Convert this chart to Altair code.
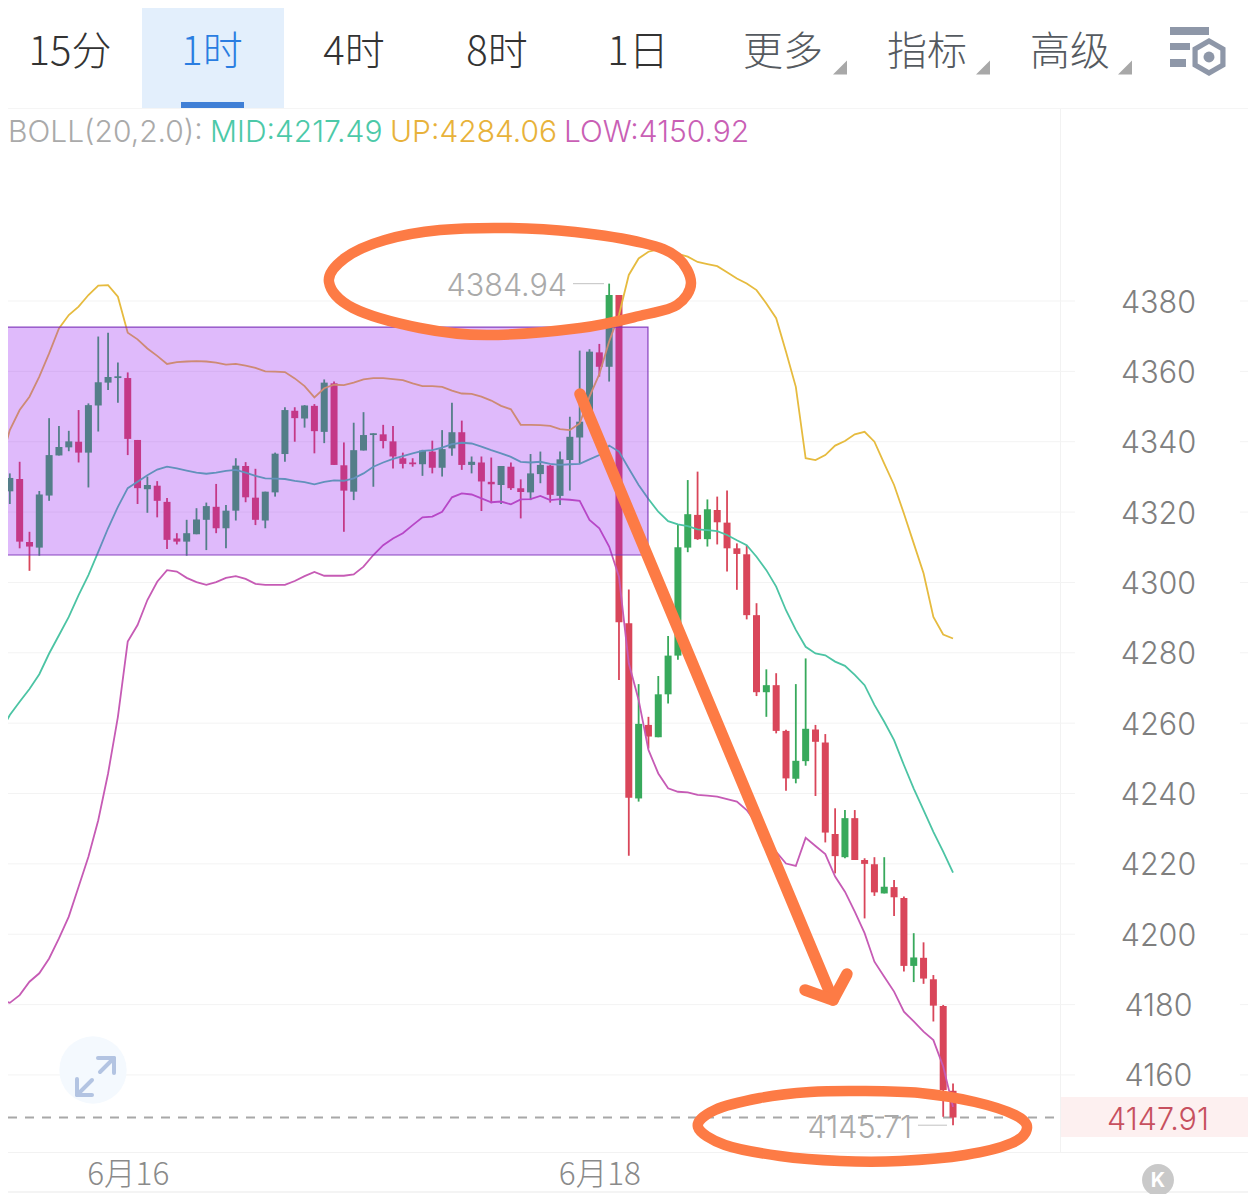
import altair as alt
import pandas as pd

directions = list("rgrrggggrg" "gggrrgrrrg" "ggrggrrggg" "rgrgrrgggr" "rrrgrggrgr" "rgrrggrggg" "grgrrgrggg" "grgrrrrrgr" "rggrrrgrrr" "grrgrrrr")

highs = [4331.0,4331.0,4334.3,4314.4,4326.0,4346.7,4344.5,4343.1,4349.0,4350.9,
         4369.9,4371.0,4362.5,4359.7,4340.5,4330.1,4328.8,4324.0,4314.0,4317.8,
         4321.1,4322.7,4328.0,4322.0,4335.3,4334.2,4332.3,4325.8,4336.9,4349.8,
         4349.8,4350.4,4350.7,4357.7,4357.1,4339.8,4345.4,4348.4,4342.4,4344.8,
         4344.5,4336.9,4335.3,4337.7,4340.3,4343.3,4351.1,4346.0,4335.8,4335.8,
         4335.5,4333.1,4334.1,4329.3,4336.5,4337.2,4333.4,4337.2,4347.1,4365.9,
         4366.3,4367.8,4384.94,4381.7,4298.0,4271.1,4261.8,4273.4,4284.8,4316.3,
         4329.1,4331.5,4323.6,4324.4,4326.1,4311.1,4310.6,4294.1,4275.3,4274.2,
         4258.1,4271.1,4278.4,4259.5,4256.9,4235.8,4235.3,4235.3,4221.6,4221.9,
         4221.9,4215.4,4210.7,4200.3,4197.7,4188.4,4179.9,4157.6]
body_tops = [4330.5,4329.7,4329.4,4311.5,4325.0,4336.2,4338.5,4340.1,4340.0,4350.4,
             4356.9,4358.4,4358.6,4358.1,4340.5,4327.7,4327.5,4322.9,4312.5,4314.0,
             4317.9,4321.7,4321.5,4320.4,4333.2,4333.1,4324.1,4325.8,4336.6,4349.0,
             4348.8,4350.3,4350.2,4356.8,4356.6,4333.3,4337.6,4341.9,4342.4,4342.1,
             4340.1,4335.3,4334.1,4337.5,4337.2,4337.9,4342.7,4342.7,4334.3,4334.1,
             4328.6,4333.1,4332.9,4326.8,4331.0,4333.4,4333.2,4335.0,4341.4,4345.7,
             4365.6,4365.4,4381.7,4381.7,4288.4,4259.8,4259.5,4268.2,4279.2,4310.0,
             4319.4,4319.2,4320.8,4320.6,4317.0,4309.7,4308.0,4290.7,4270.8,4270.8,
             4257.8,4249.3,4258.4,4258.2,4254.5,4228.5,4233.0,4233.0,4221.1,4219.9,
             4213.5,4213.4,4210.3,4193.4,4193.3,4187.2,4179.6,4155.5]
body_bottoms = [4326.1,4325.9,4311.6,4310.2,4309.9,4324.7,4336.1,4338.4,4336.9,4336.9,
                4350.3,4356.8,4358.1,4340.8,4326.8,4326.5,4323.2,4312.1,4311.6,4311.6,
                4313.7,4317.8,4315.4,4315.4,4320.4,4324.2,4317.8,4317.6,4325.6,4336.5,
                4346.7,4346.6,4343.0,4342.8,4333.4,4326.1,4325.8,4337.5,4341.9,4340.2,
                4335.8,4333.7,4333.6,4333.6,4332.6,4332.6,4338.1,4333.4,4333.4,4328.7,
                4327.9,4327.7,4326.8,4325.7,4325.6,4330.8,4324.9,4324.6,4334.8,4341.2,
                4345.7,4361.3,4361.3,4288.7,4238.8,4238.6,4256.2,4256.0,4268.2,4279.2,
                4309.9,4312.3,4312.3,4317.1,4309.7,4308.1,4290.7,4268.8,4268.8,4257.8,
                4244.3,4244.2,4249.2,4254.7,4228.9,4222.2,4221.9,4221.1,4220.0,4211.9,
                4211.6,4210.5,4191.0,4191.0,4187.4,4179.7,4155.7,4147.91]
lows = [4323.0,4322.3,4309.7,4303.3,4307.6,4323.2,4336.1,4337.3,4334.1,4327.0,
        4342.9,4354.7,4351.1,4336.2,4322.3,4319.8,4318.5,4309.5,4310.8,4307.6,
        4313.7,4309.2,4314.0,4309.7,4317.6,4322.8,4316.3,4315.4,4324.4,4334.3,
        4340.0,4344.0,4336.7,4339.6,4333.4,4314.4,4323.4,4337.5,4327.2,4338.1,
        4332.4,4332.4,4332.9,4330.3,4331.0,4330.1,4336.0,4332.0,4331.0,4320.3,
        4322.5,4322.3,4326.3,4318.2,4323.4,4328.2,4322.7,4322.0,4326.1,4333.9,
        4345.7,4358.5,4357.1,4272.3,4222.3,4237.7,4252.8,4256.0,4265.6,4278.0,
        4308.6,4312.1,4310.2,4310.8,4303.1,4297.9,4289.5,4267.7,4261.8,4257.1,
        4240.8,4242.9,4247.9,4239.3,4226.1,4217.3,4221.6,4221.1,4204.5,4210.9,
        4211.6,4205.2,4189.4,4186.4,4185.9,4175.2,4148.1,4145.71]

boll_up = [4333.4,4343.3,4349.0,4352.8,4358.5,4365.1,4372.2,4376.0,4378.4,4381.7,
           4384.4,4384.5,4381.2,4371.0,4369.1,4366.5,4364.4,4362.1,4362.6,4362.8,
           4362.9,4362.8,4362.5,4361.9,4362.1,4361.6,4361.0,4360.0,4359.9,4359.8,
           4358.0,4355.8,4352.6,4355.2,4356.2,4356.1,4356.8,4357.7,4358.1,4358.1,
           4357.8,4357.5,4356.6,4355.8,4355.8,4355.6,4354.5,4353.7,4353.6,4352.8,
           4351.7,4350.2,4349.2,4344.8,4344.8,4344.7,4344.5,4343.6,4343.3,4345.2,
           4352.8,4359.2,4368.5,4376.0,4387.4,4392.1,4394.0,4394.7,4394.0,4393.4,
           4392.6,4391.1,4390.5,4389.9,4388.2,4386.4,4385.0,4383.1,4379.3,4375.1,
           4365.6,4355.6,4335.3,4334.8,4336.2,4338.9,4340.2,4342.1,4342.8,4340.0,
           4333.8,4327.7,4319.6,4311.1,4302.6,4290.2,4285.2,4284.06]
boll_mid = [4257.1,4262.3,4266.1,4269.7,4273.9,4279.8,4285.0,4290.2,4296.4,4302.1,
            4308.7,4315.4,4321.5,4326.8,4328.6,4330.5,4332.1,4332.9,4332.4,4331.8,
            4331.2,4330.9,4331.2,4331.7,4332.0,4331.2,4330.3,4329.6,4329.5,4329.4,
            4328.9,4328.5,4327.9,4328.6,4329.0,4328.9,4329.6,4331.0,4332.9,4334.1,
            4335.1,4335.9,4336.7,4337.4,4337.6,4338.3,4339.3,4339.7,4339.5,4338.6,
            4337.6,4336.7,4335.7,4334.3,4334.1,4334.3,4333.7,4333.4,4333.6,4333.7,
            4335.0,4336.2,4338.9,4337.2,4332.4,4327.7,4323.7,4320.1,4317.4,4316.5,
            4316.0,4315.1,4314.9,4314.6,4313.5,4312.0,4310.6,4307.3,4303.5,4298.8,
            4292.1,4286.5,4281.7,4279.8,4279.3,4277.5,4276.3,4273.7,4270.8,4265.2,
            4260.4,4255.2,4248.1,4241.4,4235.3,4229.1,4223.5,4217.49]
boll_low = [4181.5,4180.5,4182.7,4186.5,4188.9,4193.1,4198.8,4205.0,4213.5,4222.0,
            4232.4,4245.7,4261.8,4283.2,4287.9,4295.0,4300.2,4303.5,4303.1,4301.3,
            4300.1,4299.3,4300.1,4301.3,4301.8,4301.0,4299.6,4299.3,4299.3,4299.3,
            4300.4,4301.8,4303.0,4301.9,4301.9,4301.9,4302.3,4304.5,4307.8,4310.6,
            4312.5,4314.0,4316.3,4318.5,4318.7,4320.1,4324.2,4325.3,4325.0,4323.9,
            4322.8,4323.0,4322.2,4323.6,4323.7,4324.6,4323.4,4323.7,4323.5,4323.2,
            4317.8,4315.4,4310.2,4301.6,4277.0,4266.6,4252.4,4245.7,4241.5,4240.5,
            4240.3,4239.6,4239.4,4239.1,4238.4,4237.7,4235.3,4231.5,4226.8,4223.4,
            4220.1,4219.4,4227.4,4225.1,4222.8,4216.4,4212.1,4206.4,4200.3,4192.2,
            4187.9,4183.7,4178.0,4175.2,4172.3,4169.9,4162.4,4150.92]

price_ticks = [4160,4180,4200,4220,4240,4260,4280,4300,4320,4340,4360,4380]
date_ticks = [13, 61]
date_labels = ["6月16", "6月18"]
last_price = 4147.91
period_high = 4384.94
period_low = 4145.71
box_index = [-0.1, 65.95]
box_price = [4307.8, 4372.6]

tabs = ["15分", "1时", "4时", "8时", "1日", "更多", "指标", "高级"]
tab_centres = [70, 212, 354, 497, 638, 783, 927, 1070]
tab_colors = ["#333333", "#2a7de1", "#333333", "#333333", "#333333", "#555a60", "#555a60", "#555a60"]

W, H = 1240, 1186
STEP = 9.825
PX_PER_UNIT = 3.518
NUM = "Inter"
CJK = "Noto Sans CJK SC"
NUM_SIZE = 30.5


def to_index(px):
    return px / STEP


def to_price(py):
    return 4380 - (py - 301) / PX_PER_UNIT


x_scale = alt.Scale(domain=[to_index(8), to_index(8 + W)], nice=False, zero=False, padding=0)
y_scale = alt.Scale(domain=[to_price(8 + H), to_price(8)], nice=False, zero=False, padding=0)

x_axis = alt.Axis(
    orient="bottom", values=date_ticks, offset=-19, domain=False, ticks=False, grid=False,
    labelExpr="datum.value == %d ? '%s' : '%s'" % (date_ticks[0], date_labels[0], date_labels[1]),
    labelFont=CJK, labelFontSize=31.5, labelColor="#8a8a8a", labelFontWeight=300,
    labelBaseline="middle", labelPadding=0, labelOverlap=False, labelFlush=False, labelBound=False, title=None)
y_axis = alt.Axis(
    orient="right", values=price_ticks, offset=-(8 + W - 1158), domain=False, ticks=False, grid=False,
    labelFont=NUM, labelFontSize=NUM_SIZE, labelColor="#7f7f7f", labelFontWeight=300, labelAlign="center",
    labelPadding=0, labelOffset=2, labelOverlap=False, labelFlush=False, labelBound=False, format="d", title=None)

candles = pd.DataFrame({
    "i": range(len(highs)), "high": highs, "low": lows,
    "top": body_tops, "bottom": body_bottoms, "dir": directions,
})
color = alt.Color("dir:N", scale=alt.Scale(domain=["g", "r"], range=["#38a95c", "#d9465a"]), legend=None)


def X(field):
    return alt.X(field, scale=x_scale, axis=x_axis)


def Y(field):
    return alt.Y(field, scale=y_scale, axis=y_axis)


def box(x1, x2, y1, y2, fill):
    return alt.Chart(pd.DataFrame({"a": [0]})).mark_rect(fill=fill).encode(
        x=alt.value(x1 - 8), x2=alt.value(x2 - 8), y=alt.value(y1 - 8), y2=alt.value(y2 - 8))


def label(text, x, y, size, col, align="center", font=NUM, weight=300):
    return alt.Chart(pd.DataFrame({"t": [text]})).mark_text(
        fontSize=size, color=col, align=align, baseline="middle", font=font, fontWeight=weight
    ).encode(x=alt.value(x - 8), y=alt.value(y - 6), text="t:N")


def symbol(x, y, size, col, shape="circle"):
    return alt.Chart(pd.DataFrame({"a": [0]})).mark_point(
        shape=shape, size=size, filled=True, fill=col, opacity=1, strokeWidth=0
    ).encode(x=alt.value(x - 8), y=alt.value(y - 8))


def stroke_path(points, col, width, interpolate="linear"):
    df = pd.DataFrame({"x": [to_index(p[0]) for p in points], "y": [to_price(p[1]) for p in points],
                       "o": range(len(points))})
    return alt.Chart(df).mark_line(color=col, strokeWidth=width, interpolate=interpolate, strokeCap="round",
                                   strokeJoin="round").encode(
        x=X("x:Q"), y=Y("y:Q"), order="o:Q")


layers = []

# page furniture
layers.append(box(142, 284, 0, 108, "#e3effc"))
layers.append(box(181, 244, 102, 108, "#3f7fd6"))
layers.append(box(0, 1256, 108, 109, "#f5f5f5"))
layers.append(box(1060, 1256, 1097, 1137, "#fdf0f0"))
layers.append(box(1060, 1061, 109, 1152, "#f2f2f2"))
layers.append(box(0, 1256, 1152, 1153, "#f2f2f2"))
layers.append(box(0, 1256, 1191, 1193, "#f4f4f4"))

# grid
grid = pd.DataFrame({"p": price_ticks})
layers.append(alt.Chart(grid).mark_rule(color="#f3f3f3", strokeWidth=1).encode(
    y=Y("p:Q"), x=alt.value(0), x2=alt.value(1067)))
layers.append(alt.Chart(grid).mark_rule(color="#f3f3f3", strokeWidth=1).encode(
    y=Y("p:Q"), x=alt.value(1232), x2=alt.value(W)))

# expand button background
layers.append(symbol(93, 1070, 4536, "#f4f9fe"))

# last price line
layers.append(alt.Chart(pd.DataFrame({"p": [last_price]})).mark_rule(
    color="#a8a8a8", strokeWidth=1.8, strokeDash=[9, 8]).encode(
    y=Y("p:Q"), x=alt.value(0), x2=alt.value(1052)))

# candles
layers.append(alt.Chart(candles).mark_rule(strokeWidth=1.8).encode(
    x=X("i:Q"), y=Y("low:Q"), y2="high:Q", color=color))
layers.append(alt.Chart(candles).mark_bar(size=7, orient="vertical").encode(
    x=X("i:Q"), y=Y("bottom:Q"), y2="top:Q", color=color))

# Bollinger bands
for values, col in [(boll_up, "#e6bb3f"), (boll_mid, "#4cc4a4"), (boll_low, "#c65bb5")]:
    df = pd.DataFrame({"i": range(len(values)), "v": values})
    layers.append(alt.Chart(df).mark_line(color=col, strokeWidth=1.8).encode(x=X("i:Q"), y=Y("v:Q")))

# purple box
layers.append(alt.Chart(pd.DataFrame({"x1": [box_index[0]], "x2": [box_index[1]], "y1": [box_price[0]], "y2": [box_price[1]]}))
              .mark_rect(fill="#941cf1", fillOpacity=0.3, stroke="#7c33b8", strokeWidth=1.2, strokeOpacity=0.9)
              .encode(x=X("x1:Q"), x2="x2:Q", y=Y("y1:Q"), y2="y2:Q"))

# high/low labels
layers.append(label("4384.94", 567, 285, NUM_SIZE, "#aaaaaa", "right"))
layers.append(label("4145.71", 912, 1127, NUM_SIZE, "#aaaaaa", "right"))
layers.append(alt.Chart(pd.DataFrame({"p": [period_high]})).mark_rule(color="#cccccc", strokeWidth=1.2).encode(
    y=Y("p:Q"), x=alt.value(565), x2=alt.value(596)))
layers.append(alt.Chart(pd.DataFrame({"p": [period_low]})).mark_rule(color="#cccccc", strokeWidth=1.2).encode(
    y=Y("p:Q"), x=alt.value(910), x2=alt.value(939)))
layers.append(label("4147.91", 1158, 1119, NUM_SIZE, "#c7505f"))

# hand-drawn annotations
ORANGE = "#fd7b45"
top_ring = [(329, 282), (345, 258), (385, 240), (440, 230), (510, 228), (575, 232), (643, 243), (677, 257), (691, 283),
            (677, 305), (643, 315), (580, 328), (487, 335), (420, 328), (353, 308)]
low_ring = [(698, 1127), (715, 1110), (760, 1098), (810, 1092), (860, 1091), (920, 1093), (975, 1102), (1015, 1115),
            (1027, 1128), (1012, 1143), (965, 1155), (900, 1161), (840, 1161), (780, 1156), (725, 1145)]
layers.append(stroke_path(top_ring, ORANGE, 10.5, "cardinal-closed"))
layers.append(stroke_path(low_ring, ORANGE, 10.5, "cardinal-closed"))
layers.append(stroke_path([(580, 394), (833, 1000)], ORANGE, 11.5))
layers.append(stroke_path([(805, 990), (833, 1000), (847, 974)], ORANGE, 11.5))

# tabs
for t, c, col in zip(tabs, tab_centres, tab_colors):
    layers.append(label(t, c, 51, 40, col, font=CJK, weight=300))

# BOLL header
layers.append(label("BOLL(20,2.0):", 8, 131, 30, "#aaaaaa", "left"))
layers.append(label("MID:4217.49", 210, 131, 30, "#4cc9a8", "left"))
layers.append(label("UP:4284.06", 390, 131, 30, "#e8b23a", "left"))
layers.append(label("LOW:4150.92", 564, 131, 30, "#c95fb5", "left"))

# dropdown triangles
for cx in [840, 983, 1125]:
    layers.append(symbol(cx, 67.5, 196, "#a8a8a8", "M1,-1L1,1L-1,1Z"))

# settings icon
layers.append(box(1170, 1209, 27, 35, "#8e97a8"))
layers.append(box(1170, 1190, 43, 50, "#8e97a8"))
layers.append(box(1170, 1186, 59, 67, "#8e97a8"))
HEX = "M0,-1L0.87,-0.5L0.87,0.5L0,1L-0.87,0.5L-0.87,-0.5Z"
layers.append(symbol(1209, 57, 1444, "#8e97a8", HEX))
layers.append(symbol(1209, 57, 676, "#ffffff", HEX))
layers.append(symbol(1209, 57, 120, "#8e97a8"))

# expand arrows
BLUE = "#b3c4e2"
layers.append(stroke_path([(100, 1072), (114, 1058)], BLUE, 4))
layers.append(stroke_path([(98, 1058), (114, 1058), (114, 1073)], BLUE, 4))
layers.append(stroke_path([(92, 1080), (77, 1095)], BLUE, 4))
layers.append(stroke_path([(77, 1079), (77, 1095), (92, 1095)], BLUE, 4))

# K button
layers.append(symbol(1158, 1180, 1018, "#c9c9c9"))
layers.append(label("K", 1158, 1179, 20, "#ffffff", weight=700))

chart = alt.layer(*layers).properties(
    width=W, height=H, padding=0, autosize=alt.AutoSizeParams(type="none"), background="#ffffff"
).configure_view(stroke=None)

chart.save("out.html", embed_options={"renderer": "svg", "actions": False})
